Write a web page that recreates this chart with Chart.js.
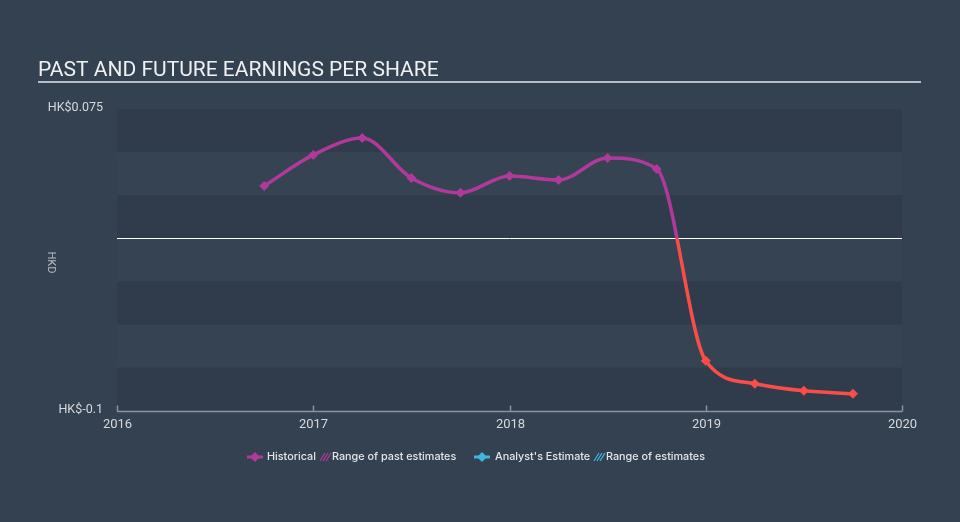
<!DOCTYPE html>
<html>
<head>
<meta charset="utf-8">
<script src="https://cdn.jsdelivr.net/npm/chart.js@4/dist/chart.umd.min.js"></script>
<style>
  html, body { margin: 0; padding: 0; background: #344150; }
  #wrap { position: relative; width: 960px; height: 522px; }
</style>
</head>
<body>
<div id="wrap"><canvas id="c" width="960" height="522"></canvas></div>
<script>
// ---- data ----
const periodYears = [2016.75, 2017.0, 2017.25, 2017.5, 2017.75, 2018.0, 2018.25, 2018.5, 2018.75, 2019.0, 2019.25, 2019.5, 2019.75];
const epsValues   = [0.0304, 0.0484, 0.0582, 0.0350, 0.0264, 0.0362, 0.0339, 0.0466, 0.0403, -0.0709, -0.0842, -0.0883, -0.0900];
const xTickYears  = [2016, 2017, 2018, 2019, 2020];
const yTickValues = [0.075, -0.1];
const yTickLabels = ['HK$0.075', 'HK$-0.1'];
const legendItems = ['Historical', 'Range of past estimates', "Analyst's Estimate", 'Range of estimates'];
const titleText = 'PAST AND FUTURE EARNINGS PER SHARE';
const yAxisTitle = 'HKD';

const PURPLE = '#b0399b';
const RED = '#fa4d4a';
const BLUE = '#3fb5e0';

function signColor(ctx) {
  const v = ctx.raw && typeof ctx.raw === 'object' ? ctx.raw.y : ctx.raw;
  return v < 0 ? RED : PURPLE;
}

const decorPlugin = {
  id: 'decor',
  beforeDraw(chart) {
    const { ctx, chartArea: a, scales: { x, y } } = chart;
    ctx.save();
    // bands
    for (let v = 0.075, i = 0; v > -0.1 + 1e-9; v -= 0.025, i++) {
      const top = y.getPixelForValue(v);
      const bot = y.getPixelForValue(v - 0.025);
      ctx.fillStyle = (i % 2 === 0) ? '#303c4b' : '#354352';
      ctx.fillRect(a.left, top, a.right - a.left, bot - top);
    }
    // zero line
    const z = Math.round(y.getPixelForValue(0)) + 0.5;
    ctx.strokeStyle = '#ffffff';
    ctx.lineWidth = 1;
    ctx.beginPath(); ctx.moveTo(a.left, z); ctx.lineTo(a.right, z); ctx.stroke();
    // x axis line and ticks (upward)
    const by = Math.round(a.bottom) + 0.5;
    ctx.strokeStyle = '#8793a0';
    ctx.lineWidth = 1.5;
    ctx.beginPath(); ctx.moveTo(a.left, by); ctx.lineTo(a.right, by); ctx.stroke();
    ctx.font = '13px Roboto';
    ctx.fillStyle = '#d5d9dd';
    ctx.textAlign = 'center';
    ctx.textBaseline = 'middle';
    xTickYears.forEach(t => {
      const px = Math.round(x.getPixelForValue(t)) + 0.5;
      ctx.beginPath(); ctx.moveTo(px, by); ctx.lineTo(px, by - 6); ctx.stroke();
      ctx.fillText(String(t), px, by + 13);
    });
    // y labels
    ctx.textAlign = 'right';
    ctx.font = '12.5px Roboto';
    yTickValues.forEach((v, i) => {
      ctx.fillText(yTickLabels[i], a.left - 14, y.getPixelForValue(v) - 1);
    });
    // y axis title (rotated)
    ctx.save();
    ctx.translate(51, y.getPixelForValue(0) + 24);
    ctx.rotate(Math.PI / 2);
    ctx.textAlign = 'center';
    ctx.font = '11px Roboto';
    ctx.fillStyle = 'rgba(213,217,221,0.8)';
    ctx.fillText(yAxisTitle, 0, 0);
    ctx.restore();
    // title
    ctx.textAlign = 'left';
    ctx.textBaseline = 'alphabetic';
    ctx.font = '21px Roboto';
    ctx.fillStyle = '#eef0f2';
    ctx.fillText(titleText, 38, 76);
    ctx.fillStyle = '#b8bec5';
    ctx.fillRect(38, 81, 883, 2);
    // legend
    const ly = 457;
    function marker(cx, col) {
      ctx.strokeStyle = col; ctx.lineWidth = 3;
      ctx.beginPath(); ctx.moveTo(cx - 8, ly); ctx.lineTo(cx + 8, ly); ctx.stroke();
      ctx.fillStyle = col;
      ctx.beginPath(); ctx.moveTo(cx, ly - 5); ctx.lineTo(cx + 5, ly); ctx.lineTo(cx, ly + 5); ctx.lineTo(cx - 5, ly); ctx.closePath(); ctx.fill();
    }
    function hatch(x0, col) {
      ctx.strokeStyle = col; ctx.lineWidth = 1.2;
      for (let k = 0; k < 3; k++) {
        ctx.beginPath(); ctx.moveTo(x0 + k * 3, ly + 4); ctx.lineTo(x0 + k * 3 + 5, ly - 4); ctx.stroke();
      }
    }
    ctx.font = '500 10.8px Inter';
    ctx.textBaseline = 'middle';
    marker(255, PURPLE);
    ctx.fillStyle = '#e3e6e9'; ctx.fillText(legendItems[0], 267, ly);
    hatch(320, PURPLE);
    ctx.fillStyle = '#e3e6e9'; ctx.fillText(legendItems[1], 332, ly);
    marker(482, BLUE);
    ctx.fillStyle = '#e3e6e9'; ctx.fillText(legendItems[2], 495, ly);
    hatch(594, BLUE);
    ctx.fillStyle = '#e3e6e9'; ctx.fillText(legendItems[3], 606, ly);
    ctx.restore();
  }
};

new Chart(document.getElementById('c'), {
  type: 'line',
  data: {
    datasets: [{
      data: periodYears.map((t, i) => ({ x: t, y: epsValues[i] })),
      borderWidth: 3.5,
      cubicInterpolationMode: 'monotone',
      borderColor(ctx) {
        const chart = ctx.chart;
        const { chartArea, scales } = chart;
        if (!chartArea) return PURPLE;
        const y0 = scales.y.getPixelForValue(0);
        const g = chart.ctx.createLinearGradient(0, chartArea.top, 0, chartArea.bottom);
        const s = Math.min(1, Math.max(0, (y0 - chartArea.top) / (chartArea.bottom - chartArea.top)));
        g.addColorStop(0, PURPLE); g.addColorStop(s, PURPLE);
        g.addColorStop(s, RED); g.addColorStop(1, RED);
        return g;
      },
      pointStyle: 'rectRot',
      pointRadius: 5,
      pointBorderWidth: 0,
      pointBackgroundColor: signColor,
      pointBorderColor: signColor,
      fill: false
    }]
  },
  options: {
    responsive: false,
    animation: false,
    layout: { padding: { left: 117, right: 58, top: 109, bottom: 111 } },
    plugins: { legend: { display: false }, tooltip: { enabled: false } },
    scales: {
      x: { type: 'linear', min: 2016, max: 2020, display: false },
      y: { type: 'linear', min: -0.1, max: 0.075, display: false }
    }
  },
  plugins: [decorPlugin]
});
</script>
</body>
</html>
